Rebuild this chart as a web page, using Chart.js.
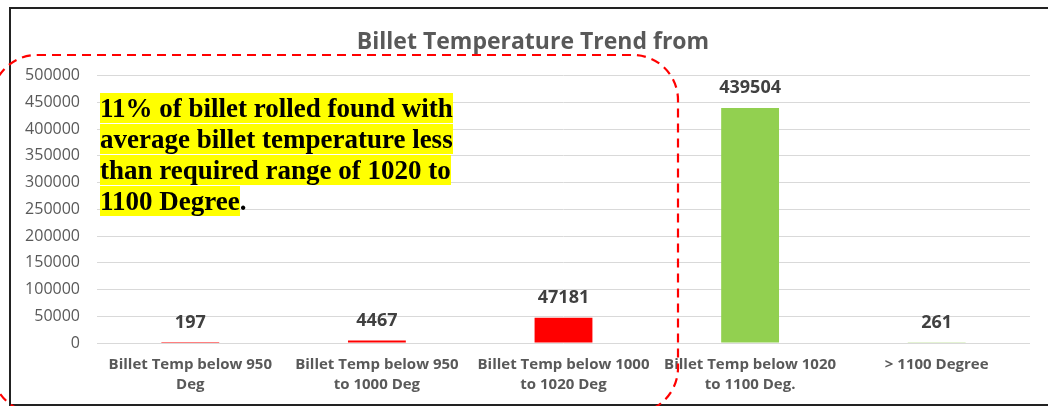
<!DOCTYPE html>
<html lang="en">
<head>
    <meta charset="UTF-8">
    <title>Billet Temperature Trend</title>
    <script src="https://cdn.jsdelivr.net/npm/chart.js"></script>
    <style>
        body { margin: 0; background: #fff; }
        #wrap { position: relative; width: 1048px; height: 406px; overflow: hidden; }
        #frame { position: absolute; left: 9px; top: 7px; width: 1045px; height: 395px; border: 2px solid #222; border-right: none; }
        #billetChart { position: absolute; left: 0; top: 0; }
        #note { position: absolute; left: 100px; top: 93px; font: bold 27px "Liberation Serif", "Times New Roman", serif; line-height: 31px; color: #000; }
        #note span { background: #ffff00; }
    </style>
</head>
<body>
<div id="wrap">
    <div id="frame"></div>
    <canvas id="billetChart" width="1048" height="406"></canvas>
    <div id="note">
        <span>11% of billet rolled found with</span><br>
        <span>average billet temperature less</span><br>
        <span>than required range of 1020 to</span><br>
        <span>1100 Degree</span>.
    </div>
</div>

<script>
    // données du graphique
    const categories = [
        ['Billet Temp below 950', 'Deg'],
        ['Billet Temp below 950', 'to 1000 Deg'],
        ['Billet Temp below 1000', 'to 1020 Deg'],
        ['Billet Temp below 1020', 'to 1100 Deg.'],
        ['> 1100 Degree']
    ];
    const billetCount = [197, 4467, 47181, 439504, 261];
    const barColors = ['#ff0000', '#ff0000', '#ff0000', '#92d050', '#92d050'];

    // étiquettes de valeur au-dessus des barres
    const valueLabels = {
        id: 'valueLabels',
        afterDatasetsDraw(chart) {
            const ctx = chart.ctx;
            ctx.save();
            ctx.font = 'bold 18px "Open Sans", sans-serif';
            ctx.fillStyle = '#404040';
            ctx.textAlign = 'center';
            ctx.textBaseline = 'middle';
            chart.getDatasetMeta(0).data.forEach((bar, i) => {
                ctx.fillText(billetCount[i], bar.x, bar.y - 20);
            });
            ctx.restore();
        }
    };

    // cadre rouge en pointillés + titre un peu décalé à droite
    const dashedBox = {
        id: 'dashedBox',
        afterLayout(chart) {
            if (chart.titleBlock) chart.titleBlock.left = 36;
        },
        afterDraw(chart) {
            const ctx = chart.ctx;
            ctx.save();
            ctx.strokeStyle = '#ff0000';
            ctx.lineWidth = 2.2;
            ctx.setLineDash([9, 6]);
            ctx.beginPath();
            ctx.roundRect(-8, 55, 686, 358, 45);
            ctx.stroke();
            ctx.restore();
        }
    };

    new Chart(document.getElementById('billetChart'), {
        type: 'bar',
        data: {
            labels: categories,
            datasets: [{
                data: billetCount,
                backgroundColor: barColors,
                barPercentage: 0.62,
                categoryPercentage: 0.5
            }]
        },
        options: {
            responsive: false,
            animation: false,
            layout: { padding: { left: 0, right: 18, top: 0, bottom: 10 } },
            plugins: {
                legend: { display: false },
                tooltip: { enabled: false },
                title: {
                    display: true,
                    text: 'Billet Temperature Trend from',
                    color: '#595959',
                    font: { family: 'Open Sans', size: 23, weight: 'bold' },
                    padding: { top: 29, bottom: 19 }
                }
            },
            scales: {
                x: {
                    grid: { display: false, drawTicks: false },
                    border: { display: false },
                    ticks: {
                        color: '#595959',
                        font: { family: 'Open Sans', size: 15, weight: 'bold', lineHeight: 1.3 },
                        padding: 12,
                        maxRotation: 0
                    },
                    afterFit(scale) { scale.height = 53; }
                },
                y: {
                    min: 0,
                    max: 500000,
                    grid: { color: '#d9d9d9', drawTicks: false },
                    border: { display: false },
                    ticks: {
                        stepSize: 50000,
                        color: '#595959',
                        font: { family: 'Open Sans', size: 16 },
                        padding: 17,
                        callback: v => v
                    },
                    afterFit(scale) { scale.width = 97; }
                }
            }
        },
        plugins: [valueLabels, dashedBox]
    });
</script>
</body>
</html>
